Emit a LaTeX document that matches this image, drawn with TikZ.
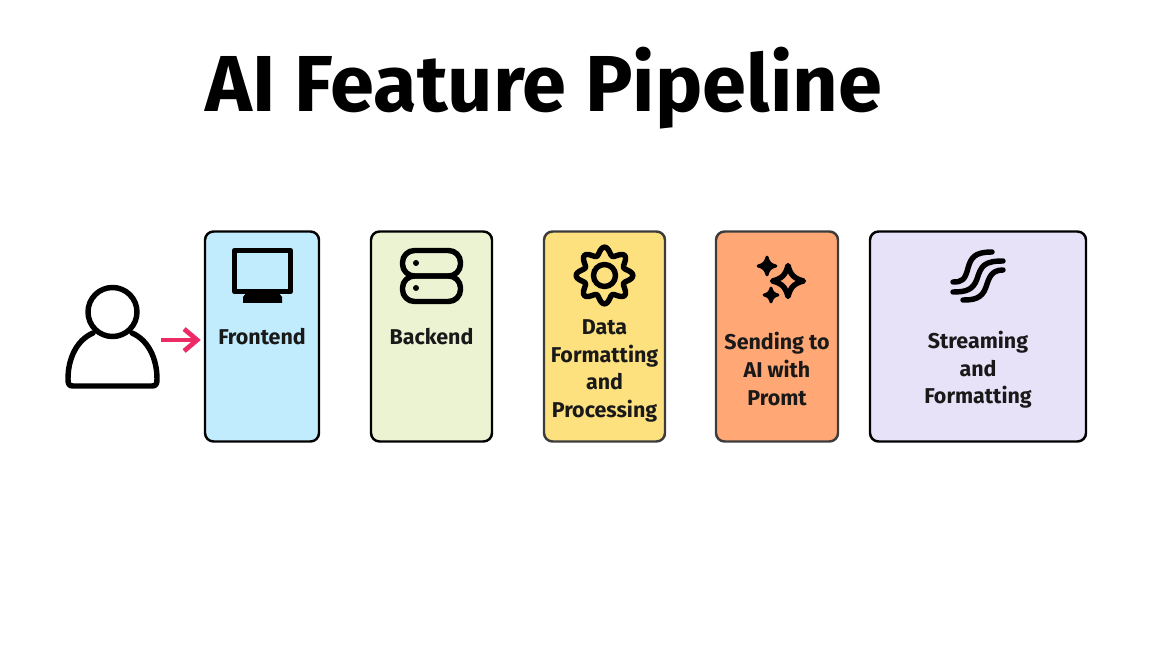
\documentclass[tikz,border=0pt]{standalone}
\usepackage{fontspec}
\setmainfont{Fira Sans}
\usepackage{xcolor}
\usetikzlibrary{arrows.meta,positioning,calc}
\definecolor{boxblue}{RGB}{193,236,253}
\definecolor{boxgreen}{RGB}{236,243,211}
\definecolor{boxyellow}{RGB}{253,225,127}
\definecolor{boxorange}{RGB}{255,168,117}
\definecolor{boxlilac}{RGB}{232,226,249}
\definecolor{arrowpink}{RGB}{236,42,102}
\definecolor{edgegrey}{RGB}{60,60,60}
\tikzset{
  stagebox/.style={draw=black, line width=1.4pt, rounded corners=0.17cm, minimum height=4.2cm, inner sep=0pt},
  stagelabel/.style={font=\fontsize{12.2}{15.7}\selectfont\bfseries, align=center, inner sep=0pt, text=black!90},
  icon/.style={draw=black, line width=3.1pt, line cap=round, line join=round}
}
\newcommand{\sparkstar}[4]{% centre x, y, radius, style
  \path[#4] (#1,#2-#3) .. controls (#1+0.17*#3,#2-0.38*#3) and (#1+0.38*#3,#2-0.17*#3) .. (#1+#3,#2)
    .. controls (#1+0.38*#3,#2+0.17*#3) and (#1+0.17*#3,#2+0.38*#3) .. (#1,#2+#3)
    .. controls (#1-0.17*#3,#2+0.38*#3) and (#1-0.38*#3,#2+0.17*#3) .. (#1-#3,#2)
    .. controls (#1-0.38*#3,#2-0.17*#3) and (#1-0.17*#3,#2-0.38*#3) .. cycle;
}
\begin{document}
\begin{tikzpicture}[x=0.02cm,y=-0.02cm]
  \useasboundingbox (0,0) rectangle (1152,648);
  % title
  \node[font=\fontsize{45.2}{50}\selectfont\bfseries, inner sep=0pt] (title) at (544,88) {AI Feature Pipeline};
  % stage boxes: name / centre x / width / fill / edge
  \foreach \name/\cx/\bw/\fc/\ec in {frontend/262/114/boxblue/black,
                                     backend/431.5/121/boxgreen/black,
                                     dataproc/604.5/121/boxyellow/edgegrey,
                                     sending/777/122/boxorange/edgegrey,
                                     streaming/978/216/boxlilac/black} {
    \node[stagebox, fill=\fc, draw=\ec, minimum width=\bw*0.02cm] (\name) at (\cx,336.5) {};
  }
  % labels
  \node[stagelabel] (frontendlabel) at (262,337) {Frontend};
  \node[stagelabel] (backendlabel) at (431.5,337) {Backend};
  \node[stagelabel] (dataproclabel) at (604.5,371) {Data\\Formatting\\and\\Processing};
  \node[stagelabel] (sendinglabel) at (777,369) {Sending to\\AI with\\Promt};
  \node[stagelabel] (streaminglabel) at (978,370) {Streaming\\and\\Formatting};
  % person
  \draw[icon] (112.5,312) circle (24.5);
  \draw[icon] (93,333) .. controls (77,340) and (68,358) .. (68,379) .. controls (68,384) and (69,386) .. (73,386)
    -- (152,386) .. controls (156,386) and (157,384) .. (157,379) .. controls (157,358) and (148,340) .. (132,333);
  % arrow into the first box
  \coordinate (userout) at (161,340);
  \draw[arrowpink, line width=2.7pt, -{Straight Barb[length=2.6mm,width=4.4mm]}, shorten >=0.06cm]
    (userout) -- (frontend.west |- userout);
  % monitor
  \draw[icon] (234.5,250.5) rectangle (290.5,291.5);
  \fill[black] (247,292) -- (278,292) -- (282,297) -- (282,303) -- (243,303) -- (243,297) -- cycle;
  % server
  \draw[icon, rounded corners=0.24cm] (402.5,250.5) rectangle (460.5,276);
  \draw[icon, rounded corners=0.24cm] (402.5,276) rectangle (460.5,301.5);
  \foreach \py in {263,288} {
    \fill[black] (416,\py) circle (3);
  }
  % gear
  \draw[icon] plot[domain=0:360, samples=241, variable=\t]
    ({604.5+(24.5+3.8*cos(8*\t))*sin(\t)},{275.5-(24.5+3.8*cos(8*\t))*cos(\t)}) -- cycle;
  \draw[icon] (604.5,275.5) circle (11);
  % sparkles
  \sparkstar{788}{281}{15.5}{icon}
  \sparkstar{767}{266}{9}{icon, fill=black, line width=1.6pt}
  \sparkstar{771}{295}{7}{icon, fill=black, line width=1.6pt}
  % stream lines
  \draw[icon] (992,252) .. controls (974,252) and (971,258) .. (968,268) .. controls (965,280) and (962,282) .. (953,282);
  \draw[icon] (1003,261) .. controls (984,261) and (981,266) .. (977,279) .. controls (973,290) and (966,292) .. (953,292);
  \draw[icon] (1003,270) .. controls (991,270) and (989,278) .. (986,287) .. controls (982,299) and (973,300) .. (963,300);
\end{tikzpicture}
\end{document}
